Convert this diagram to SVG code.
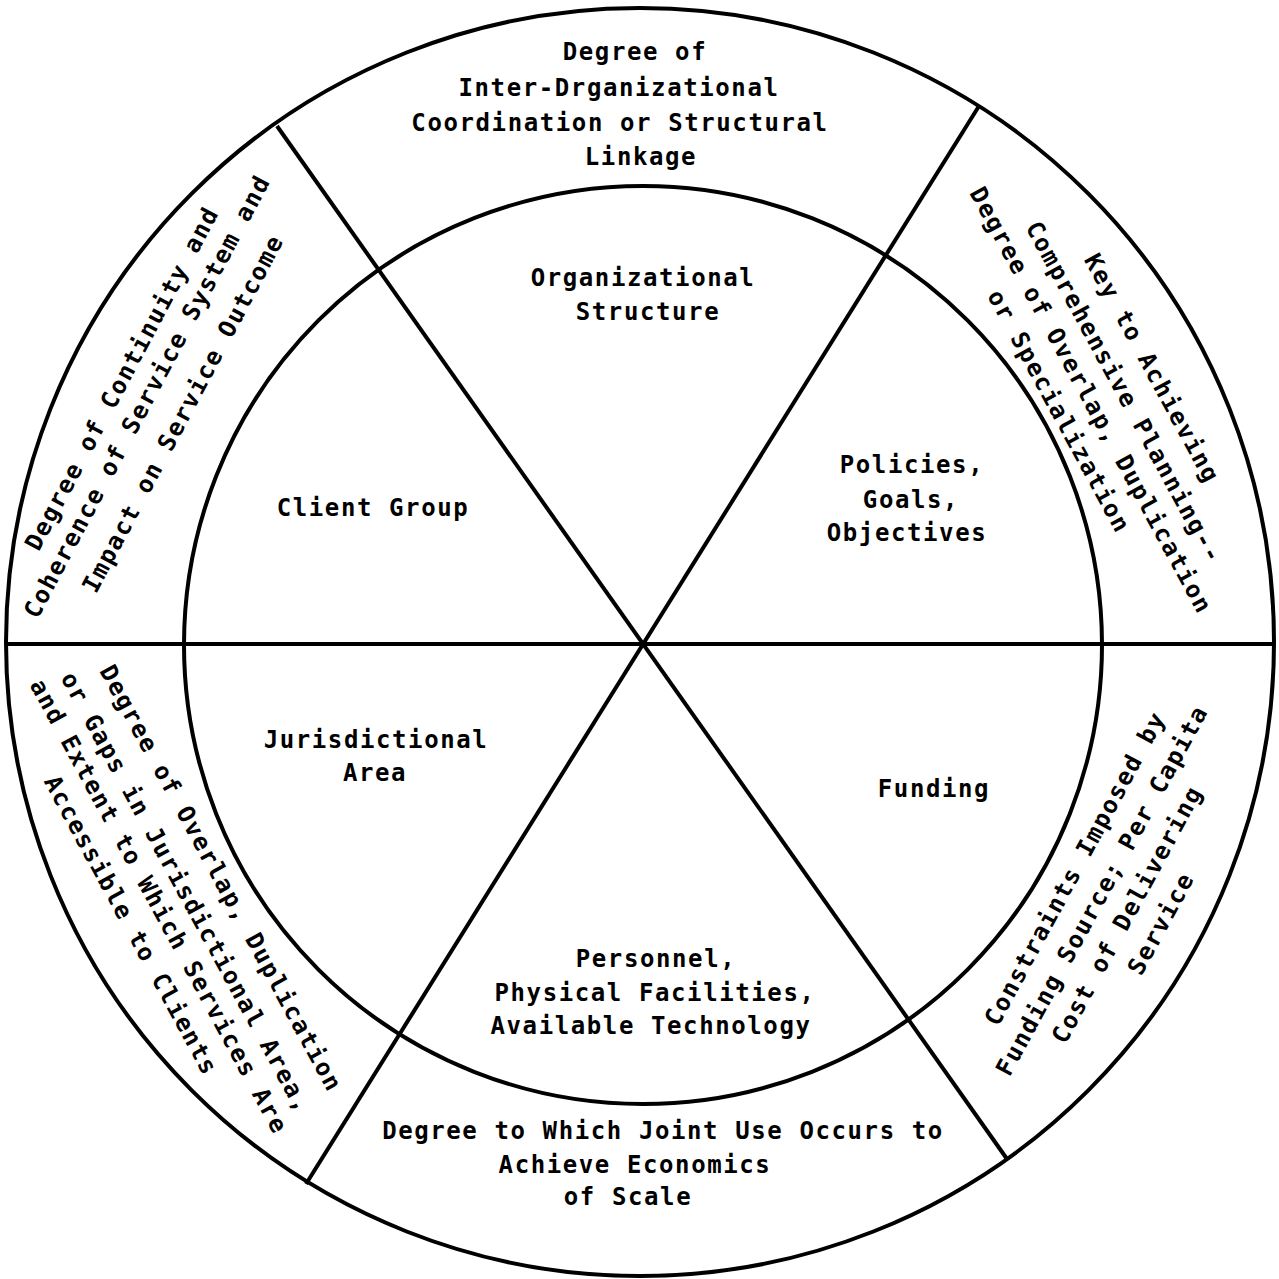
<svg xmlns="http://www.w3.org/2000/svg" width="1279" height="1279" viewBox="0 0 1279 1279">
<style>
  .ring { fill: none; stroke: #000; stroke-width: 4; }
  .spoke { stroke: #000; stroke-width: 4; fill: none; }
  text { font-family: "DejaVu Sans Mono", "Liberation Mono", monospace; font-weight: bold; font-size: 24px; letter-spacing: 1.6px; fill: #000; text-anchor: middle; }
</style>
<rect x="0" y="0" width="1279" height="1279" fill="#fff"/>
<g id="frame">
  <circle class="ring" cx="640" cy="642" r="634"/>
  <circle class="ring" cx="643" cy="645" r="459"/>
</g>
<g id="connectors">
  <line class="spoke" x1="277" y1="126" x2="1007" y2="1159"/>
  <line class="spoke" x1="979" y1="106" x2="306" y2="1184"/>
  <line class="spoke" x1="6" y1="644" x2="1274" y2="644"/>
</g>
<g id="outer-top">
  <text x="635" y="60">Degree of</text>
  <text x="619" y="96">Inter-Drganizational</text>
  <text x="620" y="131">Coordination or Structural</text>
  <text x="641" y="165">Linkage</text>
</g>
<g id="inner-organizational-structure">
  <text x="643" y="286">Organizational</text>
  <text x="648" y="320">Structure</text>
</g>
<g id="inner-client-group">
  <text x="373" y="516">Client Group</text>
</g>
<g id="inner-policies">
  <text x="912" y="473">Policies,</text>
  <text x="911" y="508">Goals,</text>
  <text x="907" y="541">Objectives</text>
</g>
<g id="inner-jurisdictional-area">
  <text x="376" y="748">Jurisdictional</text>
  <text x="375" y="781">Area</text>
</g>
<g id="inner-funding">
  <text x="934" y="797">Funding</text>
</g>
<g id="inner-personnel">
  <text x="656" y="967">Personnel,</text>
  <text x="655" y="1001">Physical Facilities,</text>
  <text x="651" y="1034">Available Technology</text>
</g>
<g id="outer-bottom">
  <text x="663" y="1139">Degree to Which Joint Use Occurs to</text>
  <text x="635" y="1173">Achieve Economics</text>
  <text x="628" y="1205">of Scale</text>
</g>
<g id="outer-upper-left">
  <text transform="translate(123,379) rotate(-62)" y="7">Degree of Continuity and</text>
  <text transform="translate(148,397) rotate(-62)" y="7">Coherence of Service System and</text>
  <text transform="translate(184,414) rotate(-62)" y="7">Impact on Service Outcome</text>
</g>
<g id="outer-upper-right">
  <text transform="translate(1151,369) rotate(61.5)" y="7">Key to Achieving</text>
  <text transform="translate(1123,393) rotate(61.5)" y="7">Comprehensive Planning--</text>
  <text transform="translate(1090,401) rotate(61.5)" y="7">Degree of Overlap, Duplication</text>
  <text transform="translate(1058,412) rotate(61.5)" y="7">or Specialization</text>
</g>
<g id="outer-lower-left">
  <text transform="translate(220,879) rotate(61.5)" y="7">Degree of Overlap, Duplication</text>
  <text transform="translate(185,893) rotate(61.5)" y="7">or Gaps in Jurisdictional Area,</text>
  <text transform="translate(158,907) rotate(61.5)" y="7">and Extent to Which Services Are</text>
  <text transform="translate(130,926) rotate(61.5)" y="7">Accessible to Clients</text>
</g>
<g id="outer-lower-right">
  <text transform="translate(1076,869) rotate(-61.5)" y="7">Constraints Imposed by</text>
  <text transform="translate(1103,891) rotate(-61.5)" y="7">Funding Source; Per Capita</text>
  <text transform="translate(1128,915) rotate(-61.5)" y="7">Cost of Delivering</text>
  <text transform="translate(1162,924) rotate(-61.5)" y="7">Service</text>
</g>
</svg>
